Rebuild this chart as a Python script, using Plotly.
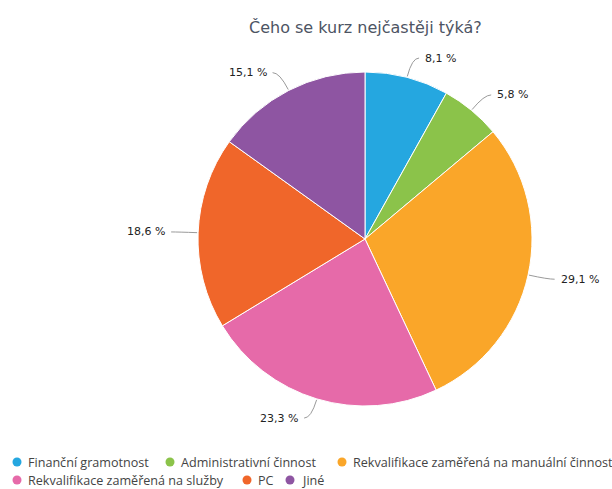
import math
import plotly.graph_objects as go

# ---- data ----
categories = [
    "Finanční gramotnost",
    "Administrativní činnost",
    "Rekvalifikace zaměřená na manuální činnost",
    "Rekvalifikace zaměřená na služby",
    "PC",
    "Jiné",
]
values = [8.1, 5.8, 29.1, 23.3, 18.6, 15.1]
colors = ["#25a7e0", "#8bc34a", "#faa629", "#e66aa9", "#f0662a", "#8e55a2"]
title_text = "Čeho se kurz nejčastěji týká?"

# ---- layout constants (pixels) ----
W, H = 612, 489
CX, CY, R = 365, 239, 167


def px(x):
    return x / W


def py(y):
    return 1 - y / H


fig = go.Figure()
fig.add_trace(go.Pie(
    labels=categories,
    values=values,
    sort=False,
    direction="clockwise",
    rotation=0,
    marker=dict(colors=colors, line=dict(color="#ffffff", width=1)),
    textinfo="none",
    hovertemplate="%{label}: %{value:.1f} %<extra></extra>",
    domain=dict(x=[px(CX - R), px(CX + R)], y=[py(CY + R), py(CY - R)]),
    showlegend=False,
))

annotations = []
shapes = []

# data labels with connectors, placed from each slice's mid angle
total = sum(values)
cum = 0.0
for v in values:
    mid = (cum + v / 2) / total * 2 * math.pi
    cum += v
    s, c = math.sin(mid), -math.cos(mid)
    right = s >= 0
    x0, y0 = CX + (R + 1) * s, CY + (R + 1) * c
    x1, y1 = CX + (R + 20) * s, CY + (R + 20) * c
    x2 = x1 + (7 if right else -7)
    y2 = y1
    path = (f"M {px(x0)},{py(y0)} Q {px(x1)},{py(y1)} {px(x2)},{py(y2)}")
    shapes.append(dict(type="path", path=path, xref="paper", yref="paper",
                       line=dict(color="#9a9a9a", width=1)))
    label = f"{v:.1f}".replace(".", ",") + " %"
    annotations.append(dict(
        x=px(x2 + (4 if right else -4)), y=py(y2), xref="paper", yref="paper",
        text=label, showarrow=False,
        xanchor="left" if right else "right", yanchor="middle",
        font=dict(family="DejaVu Sans", size=11, color="#222222"),
    ))

# title
annotations.append(dict(
    x=px(CX), y=py(27), xref="paper", yref="paper", text=title_text,
    showarrow=False, xanchor="center", yanchor="middle",
    font=dict(family="DejaVu Sans", size=16, color="#4d5463"),
))

# legend (circle markers + text), laid out in two rows
legend_pos = [(17, 462), (170, 462), (342, 462), (17, 480), (247, 480), (290, 480)]
for (lx, ly), name, col in zip(legend_pos, categories, colors):
    shapes.append(dict(type="circle", xref="paper", yref="paper",
                       x0=px(lx - 4.5), x1=px(lx + 4.5),
                       y0=py(ly + 4.5), y1=py(ly - 4.5),
                       fillcolor=col, line=dict(width=0)))
    annotations.append(dict(
        x=px(lx + 9), y=py(ly), xref="paper", yref="paper", text=name,
        showarrow=False, xanchor="left", yanchor="middle",
        font=dict(family="Open Sans", size=12.6, color="#444444"),
    ))

fig.update_layout(
    width=W, height=H,
    margin=dict(l=0, r=0, t=0, b=0),
    paper_bgcolor="#ffffff",
    plot_bgcolor="#ffffff",
    showlegend=False,
    annotations=annotations,
    shapes=shapes,
)

fig.write_html("out.html",
               config={"displayModeBar": False},
               post_script="document.body.style.margin='0';document.body.style.overflow='hidden';")
